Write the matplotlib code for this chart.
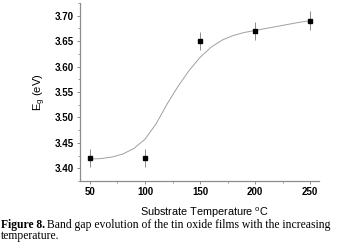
import numpy as np
import matplotlib
matplotlib.use("Agg")
from matplotlib import pyplot as plt
from matplotlib.ticker import MultipleLocator

# measured points
temp = [50, 100, 150, 200, 250]
eg = [3.42, 3.42, 3.65, 3.67, 3.69]
eg_err = [0.018, 0.018, 0.018, 0.018, 0.019]

# fitted curve
fit_t = [50, 60, 70, 80, 90, 100, 110, 120, 130, 140, 150,
         160, 170, 180, 190, 200, 210, 220, 230, 240, 250]
fit_e = [3.418, 3.419, 3.422, 3.428, 3.439, 3.457, 3.487, 3.526, 3.561, 3.592, 3.618,
         3.638, 3.652, 3.661, 3.667, 3.671, 3.675, 3.679, 3.683, 3.687, 3.690]

xticks = [50, 100, 150, 200, 250]
yticks = [3.40, 3.45, 3.50, 3.55, 3.60, 3.65, 3.70]

plt.rcParams['font.family'] = ['Liberation Sans', 'DejaVu Sans']
grey = '#8c8c8c'
H = 252.0

fig = plt.figure(figsize=(3.54, 2.52), dpi=100)
ax = fig.add_axes([0.226, 0.282, 0.675, 0.706])

ax.plot(fit_t, fit_e, color='#a0a0a0', lw=0.7, zorder=1)
ax.errorbar(temp, eg, yerr=eg_err, fmt='s', color='black', ms=2.2,
            ecolor=grey, elinewidth=0.7, capsize=0, zorder=2)

ax.set_xlim(41, 258)
ax.set_ylim(3.375, 3.725)
ax.set_xticks(xticks)
ax.set_yticks(yticks)
ax.set_yticklabels(['%.2f' % v for v in yticks])
ax.xaxis.set_minor_locator(MultipleLocator(25))
ax.yaxis.set_minor_locator(MultipleLocator(0.025))

for s in ['top', 'right']:
    ax.spines[s].set_visible(False)
for s in ['left', 'bottom']:
    ax.spines[s].set_color(grey)
    ax.spines[s].set_linewidth(0.9)

ax.tick_params(which='major', direction='out', length=2.5, width=0.7, color=grey,
               labelsize=7, pad=2)
ax.tick_params(which='minor', direction='out', length=1.5, width=0.6, color=grey)
for lab in ax.get_xticklabels() + ax.get_yticklabels():
    lab.set_fontweight('bold')

ax.set_ylabel('E$_\\mathregular{g}$ (eV)', fontsize=8, labelpad=5)
ax.set_xlabel('Substrate Temperature $^\\mathregular{o}$C', fontsize=7.8)
ax.xaxis.label.set_va('baseline')
ax.xaxis.set_label_coords(0.519, -0.195)

# caption
serif = ['Liberation Serif', 'DejaVu Serif']
cap_size = 8.4
t1 = fig.text(0.002, 1 - 228 / H, 'Figure 8.', fontsize=cap_size, fontweight='bold',
              family=serif, va='baseline')
fig.canvas.draw()
bb = t1.get_window_extent()
x2 = (bb.x1 + 2) / fig.bbox.width
fig.text(x2, 1 - 228 / H, 'Band gap evolution of the tin oxide films with the increasing',
         fontsize=cap_size, family=serif, va='baseline')
fig.text(0.002, 1 - 239.5 / H, 'temperature.', fontsize=cap_size, family=serif,
         va='baseline')

fig.savefig('out.png', dpi=100)
